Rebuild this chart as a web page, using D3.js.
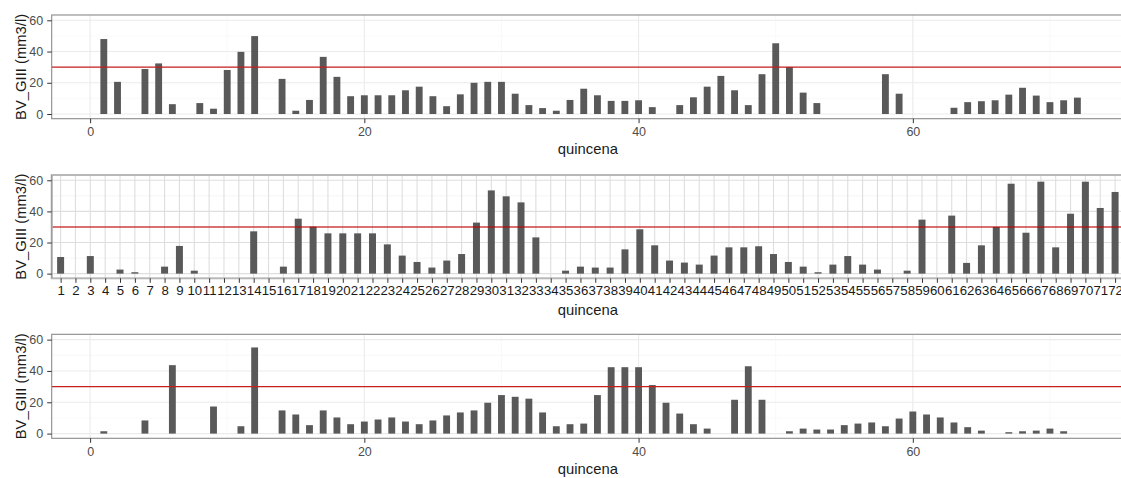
<!DOCTYPE html>
<html>
<head>
<meta charset="utf-8">
<script src="https://cdn.jsdelivr.net/npm/d3@7"></script>
<style>
  html, body { margin: 0; padding: 0; background: #fff; }
  svg { display: block; font-family: "Liberation Sans", Arial, sans-serif; }
</style>
</head>
<body>
<svg id="chart" width="1121" height="478"></svg>
<script>
// Biovolume of group III per fortnight (quincena), three series
const quincenaA = [1,2,4,5,6,8,9,10,11,12,14,15,16,17,18,19,20,21,22,23,24,25,26,27,28,29,30,31,32,33,34,35,36,37,38,39,40,41,43,44,45,46,47,48,49,50,51,52,53,58,59,63,64,65,66,67,68,69,70,71,72];
const bvA = [48,20.6,28.8,32.4,6.3,7,3.4,28.2,39.8,49.9,22.5,2.1,9,36.6,23.8,11.4,12,12,12,15.2,17.5,11.4,5,12.6,20,20.6,20.6,13,5.7,3.8,2.1,9,16.2,12,8.4,8.4,8.8,4.4,5.7,10.7,17.5,24.4,15.2,5.7,25.5,45.3,30.1,13.7,7,25.5,13,4,7.6,8.2,8.8,12.4,16.8,11.8,7.6,8.8,10.5];

const quincenaB = ["1","2","3","4","5","6","7","8","9","10","11","12","13","14","15","16","17","18","19","20","21","22","23","24","25","26","27","28","29","30","31","32","33","34","35","36","37","38","39","40","41","42","43","44","45","46","47","48","49","50","51","52","53","54","55","56","57","58","59","60","61","62","63","64","65","66","67","68","69","70","71","72"];
const bvB = [10.7,null,11.3,null,2.6,0.9,null,4.5,17.8,1.9,null,null,null,27.2,null,4.5,35.3,30.2,25.9,25.9,25.9,25.9,18.8,11.6,7.5,3.9,8.4,12.6,32.8,53.5,49.7,45.8,23.3,null,1.9,4.5,3.9,3.9,15.6,28.5,18.2,8.4,7.1,5.8,11.6,16.9,16.9,17.6,12.6,7.5,4.5,0.9,5.8,11.3,5.8,2.6,null,1.9,34.7,null,37.3,6.9,18.2,30,57.8,26.3,59.1,16.9,38.5,59.1,42.2,52.5];

const quincenaC = [1,4,6,9,11,12,14,15,16,17,18,19,20,21,22,23,24,25,26,27,28,29,30,31,32,33,34,35,36,37,38,39,40,41,42,43,44,45,47,48,49,51,52,53,54,55,56,57,58,59,60,61,62,63,64,65,67,68,69,70,71];
const bvC = [1.5,8.4,43.7,17.3,4.7,55,14.8,12.2,5.4,14.8,10.3,6,7.7,9,10.3,7.7,6,8.4,11.6,13.5,14.8,19.7,24.6,23.5,22.3,13.5,4.7,6,6.4,24.6,42.4,42.4,42.4,31,19.7,12.8,6,3.2,21.6,43,21.6,1.5,3.2,2.6,2.6,5.4,6.4,7.1,4.7,9.6,14.1,12.2,10.3,7.1,4.1,1.9,0.9,1.5,1.9,3.2,1.5];

const xTicksNumeric = [0, 20, 40, 60];
const xMinorNumeric = [10, 30, 50, 70];
const yTicks = [0, 20, 40, 60];
const yMinor = [10, 30, 50];
const threshold = 30;

const yTitle = "BV_GIII (mm3/l)";
const xTitle = "quincena";

const svg = d3.select("#chart");
const left = 51.7, right = 1124;
const barFill = "#595959";

function yScale(top, bottom) {
  return d3.scaleLinear().domain([-3.0, 63.4]).range([bottom, top]);
}

function drawYGrid(g, y, gridColor, minorColor) {
  g.selectAll(".ymin").data(yMinor).join("line")
    .attr("x1", left).attr("x2", right)
    .attr("y1", d => y(d)).attr("y2", d => y(d))
    .attr("stroke", minorColor).attr("stroke-width", 0.6);
  g.selectAll(".ymaj").data(yTicks).join("line")
    .attr("x1", left).attr("x2", right)
    .attr("y1", d => y(d)).attr("y2", d => y(d))
    .attr("stroke", gridColor).attr("stroke-width", 1.1);
}

function yAxisLabels(g, y, top, bottom, tickColor) {
  const ax = g.append("g").attr("transform", `translate(${left},0)`)
    .call(d3.axisLeft(y).tickValues(yTicks).tickSize(4.5).tickPadding(4));
  ax.select(".domain").remove();
  ax.selectAll(".tick line").attr("stroke", tickColor);
  ax.selectAll(".tick text").attr("fill", "#4d4d4d")
    .style("font-size", "12.5px").style("font-family", "Liberation Sans, Arial, sans-serif");
  g.append("text")
    .attr("transform", `translate(21,${(top + bottom) / 2}) rotate(-90)`)
    .attr("text-anchor", "middle").attr("dominant-baseline", "central")
    .attr("fill", "#1a1a1a").style("font-size", "14.8px")
    .text(yTitle);
}

function numericPanel(top, bottom, qs, vals) {
  const g = svg.append("g");
  const x = d3.scaleLinear().domain([-2.8, 75.4]).range([left, right]);
  const y = yScale(top, bottom);
  const unit = x(1) - x(0);
  const bw = unit * 0.5;

  drawYGrid(g, y, "#ebebeb", "#f5f5f5");
  g.selectAll(".xmin").data(xMinorNumeric).join("line")
    .attr("x1", d => x(d)).attr("x2", d => x(d))
    .attr("y1", top).attr("y2", bottom)
    .attr("stroke", "#f5f5f5").attr("stroke-width", 0.6);
  g.selectAll(".xmaj").data(xTicksNumeric).join("line")
    .attr("x1", d => x(d)).attr("x2", d => x(d))
    .attr("y1", top).attr("y2", bottom)
    .attr("stroke", "#ebebeb").attr("stroke-width", 1.1);

  const data = qs.map((q, i) => ({ q, v: vals[i] }));
  g.selectAll(".bar").data(data).join("rect")
    .attr("x", d => x(d.q) - bw / 2)
    .attr("width", bw)
    .attr("y", d => y(d.v))
    .attr("height", d => y(0) - y(d.v))
    .attr("fill", barFill);

  g.append("line")
    .attr("x1", left).attr("x2", right)
    .attr("y1", y(threshold)).attr("y2", y(threshold))
    .attr("stroke", "#c81e1e").attr("stroke-width", 1.1);

  g.append("rect")
    .attr("x", left).attr("y", top)
    .attr("width", right - left).attr("height", bottom - top)
    .attr("fill", "none").attr("stroke", "#8a8a8a").attr("stroke-width", 1.1);

  yAxisLabels(g, y, top, bottom, "#333");

  const ax = g.append("g").attr("transform", `translate(0,${bottom})`)
    .call(d3.axisBottom(x).tickValues(xTicksNumeric).tickFormat(d3.format("d")).tickSize(4.5).tickPadding(4));
  ax.select(".domain").remove();
  ax.selectAll(".tick line").attr("stroke", "#333");
  ax.selectAll(".tick text").attr("fill", "#4d4d4d")
    .style("font-size", "12.5px").style("font-family", "Liberation Sans, Arial, sans-serif");

  g.append("text")
    .attr("x", (left + right) / 2).attr("y", bottom + 35.5)
    .attr("text-anchor", "middle").attr("fill", "#1a1a1a")
    .style("font-size", "14.8px").text(xTitle);
}

function categoricalPanel(top, bottom, cats, vals) {
  const g = svg.append("g");
  const x = d3.scalePoint().domain(cats).range([left, right]).padding(0.6);
  const y = yScale(top, bottom);
  const bw = x.step() * 0.47;

  drawYGrid(g, y, "#dedede", "#efefef");
  g.selectAll(".xmaj").data(cats).join("line")
    .attr("x1", d => x(d)).attr("x2", d => x(d))
    .attr("y1", top).attr("y2", bottom)
    .attr("stroke", "#dedede").attr("stroke-width", 1.1);

  const data = cats.map((c, i) => ({ c, v: vals[i] })).filter(d => d.v !== null);
  g.selectAll(".bar").data(data).join("rect")
    .attr("x", d => x(d.c) - bw / 2)
    .attr("width", bw)
    .attr("y", d => y(d.v))
    .attr("height", d => y(0) - y(d.v))
    .attr("fill", barFill);

  g.append("line")
    .attr("x1", left).attr("x2", right)
    .attr("y1", y(threshold)).attr("y2", y(threshold))
    .attr("stroke", "#c00000").attr("stroke-opacity", 0.55).attr("stroke-width", 2);

  g.append("rect")
    .attr("x", left).attr("y", top)
    .attr("width", right - left).attr("height", bottom - top)
    .attr("fill", "none").attr("stroke", "#b8b8b8").attr("stroke-width", 2);
  g.append("line")
    .attr("x1", left).attr("x2", left).attr("y1", top).attr("y2", bottom)
    .attr("stroke", "#9a9a9a").attr("stroke-width", 1.2);

  yAxisLabels(g, y, top, bottom, "#333");

  const ax = g.append("g").attr("transform", `translate(0,${bottom})`)
    .call(d3.axisBottom(x).tickSize(4.5).tickPadding(3));
  ax.select(".domain").remove();
  ax.selectAll(".tick line").attr("stroke", "#333");
  ax.selectAll(".tick text").attr("fill", "#1a1a1a")
    .style("font-size", "13.2px").style("font-family", "Liberation Sans, Arial, sans-serif");

  g.append("text")
    .attr("x", (left + right) / 2).attr("y", bottom + 37)
    .attr("text-anchor", "middle").attr("fill", "#1a1a1a")
    .style("font-size", "14.8px").text(xTitle);
}

numericPanel(15, 118.7, quincenaA, bvA);
categoricalPanel(175, 278.3, quincenaB, bvB);
numericPanel(334.3, 438.3, quincenaC, bvC);
</script>
</body>
</html>
